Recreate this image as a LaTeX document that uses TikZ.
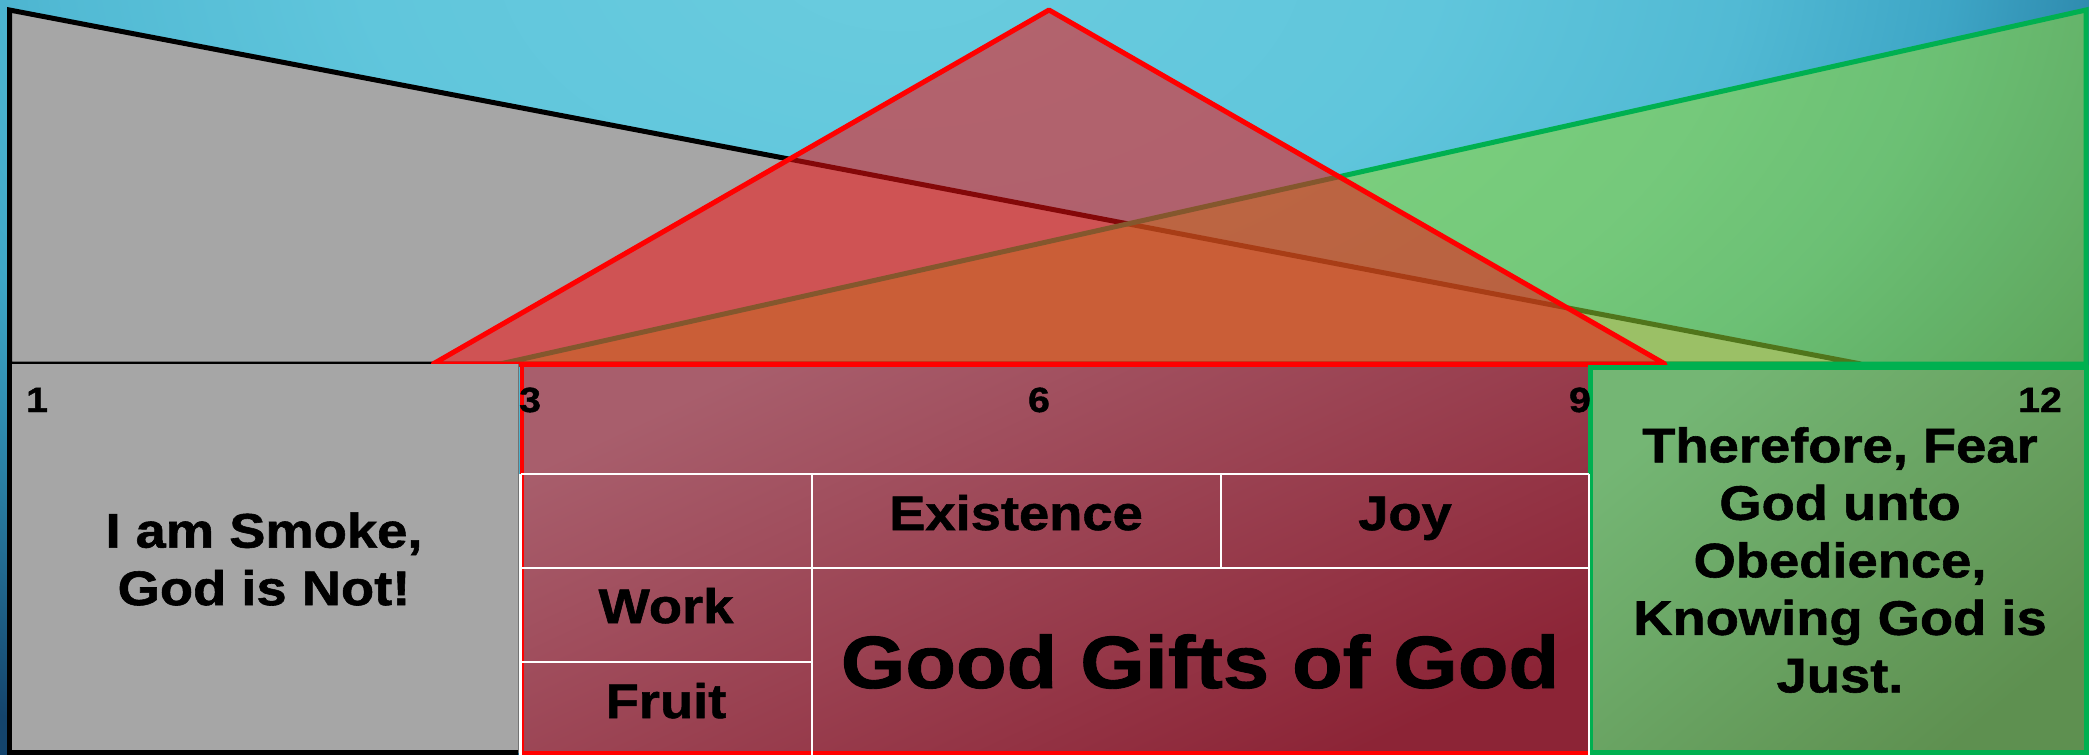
\documentclass[tikz,border=0pt]{standalone}
\usepackage{fontspec}
\setmainfont{Liberation Sans}[FakeStretch=1.12,BoldFeatures={FakeBold=1.2}]
\definecolor{bgA}{RGB}{106,204,222}
\definecolor{bgB}{RGB}{96,198,220}
\definecolor{bgC}{RGB}{82,186,212}
\definecolor{bgD}{RGB}{62,166,198}
\definecolor{bgE}{RGB}{46,138,174}
\definecolor{bgF}{RGB}{20,68,108}
\definecolor{smokegray}{HTML}{A6A6A6}
\definecolor{grline}{HTML}{00B050}
\definecolor{grfill}{RGB}{146,214,50}
\definecolor{redfill}{RGB}{242,15,18}
\definecolor{rbTop}{RGB}{168,94,108}
\definecolor{rbBot}{RGB}{140,36,54}
\definecolor{gbTop}{RGB}{116,182,116}
\definecolor{gbBot}{RGB}{94,144,80}
\pgfdeclareradialshading{bgshade}{\pgfpoint{0bp}{0bp}}{color(0bp)=(bgA); color(9bp)=(bgB); color(14bp)=(bgC); color(17.5bp)=(bgD); color(20bp)=(bgE); color(26bp)=(bgF); color(50bp)=(bgF)}
\tikzset{
  lbl/.style={font=\bfseries\fontsize{48.5}{57.5}\selectfont, inner sep=0pt, text=black},
  num/.style={font=\bfseries\fontsize{35}{40}\selectfont, inner sep=0pt, text=black},
  big/.style={font=\bfseries\fontsize{74}{80}\selectfont, inner sep=0pt, text=black},
  cell/.style={draw=white, line width=2.5pt},
  smokeshape/.style={draw=black, line width=5pt, fill=smokegray, line join=miter},
  fearshape/.style={draw=grline, line width=5pt, fill=grfill, fill opacity=0.55, line join=miter},
  giftshape/.style={draw=red, line width=5pt, fill=redfill, fill opacity=0.55, line join=round},
}
\begin{document}
\begin{tikzpicture}[x=1pt,y=-1pt]
\useasboundingbox (0,0) rectangle (2089,755);
% background
\begin{scope}
\clip (0,0) rectangle (2089,755);
\shade[shading=bgshade] (-600,-950) rectangle (2400,850);
\end{scope}
% top shapes
\draw[smokeshape] (9.5,10) -- (1861,364) -- (9.5,364) -- cycle;
\draw[fearshape] (500,364) -- (2086,10) -- (2086,364) -- cycle;
\draw[giftshape] (433,364) -- (1049,10) -- (1665,364) -- cycle;
% left box
\fill[smokegray] (9.5,364) rectangle (518,753);
\draw[black, line width=5pt] (9.5,364) -- (9.5,752.5) -- (518,752.5);
\draw[black!55, line width=1pt] (518,364) -- (518,753);
% red box
\shade[top color=rbTop, bottom color=rbBot, shading angle=25] (521.5,364) rectangle (1590,753);
\draw[red, line width=4pt] (521.5,365) rectangle (1590,753);
% green box
\shade[top color=gbTop, bottom color=gbBot, shading angle=40] (1590.5,367.5) rectangle (2086.5,752.5);
\draw[grline, line width=5pt] (1590.5,367.5) rectangle (2086.5,752.5);
% table grid
\draw[cell] (520.5,474) -- (1589,474);
\draw[cell] (520.5,568) -- (1589,568);
\draw[cell] (520.5,662) -- (812,662);
\draw[cell] (812,474) -- (812,755);
\draw[cell] (1221,474) -- (1221,568);
\draw[cell] (520.5,474) -- (520.5,755);
\draw[cell] (1589,474) -- (1589,755);
% numbers
\node[num, anchor=base west] (n1) at (26,412) {1};
\node[num, anchor=base west] (n3) at (519,412) {3};
\node[num, anchor=base] (n6) at (1039,412) {6};
\node[num, anchor=base east] (n9) at (1591,412) {9};
\node[num, anchor=base east] (n12) at (2062,412) {12};
% texts
\node[lbl, align=center] (smoke) at (264,559) {I am Smoke,\\God is Not!};
\node[lbl, align=center] (fear) at (1840,560) {Therefore, Fear\\God unto\\Obedience,\\Knowing God is\\Just.};
\node[lbl, anchor=base] (exist) at (1016,530) {Existence};
\node[lbl, anchor=base] (joy) at (1405,530) {Joy};
\node[lbl, anchor=base] (work) at (666,623) {Work};
\node[lbl, anchor=base] (fruit) at (666,718) {Fruit};
\node[big, anchor=base] (gifts) at (1200,688) {Good Gifts of God};
\end{tikzpicture}
\end{document}
